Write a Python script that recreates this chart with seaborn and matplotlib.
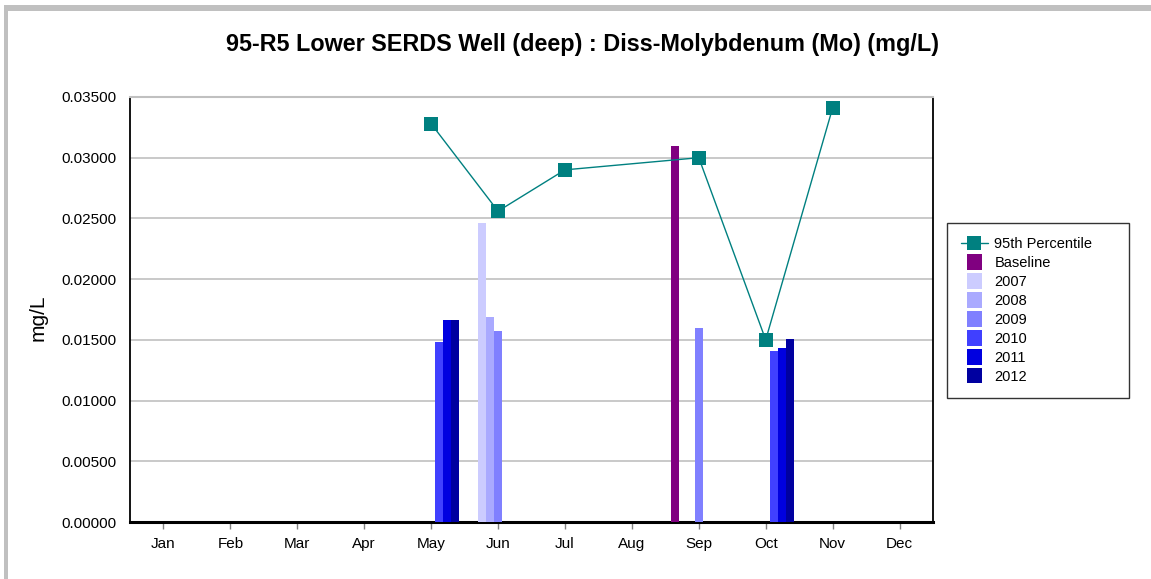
import matplotlib
matplotlib.use("Agg")
import matplotlib.pyplot as plt
from matplotlib.patches import Rectangle, Patch
from matplotlib.lines import Line2D
from matplotlib.legend_handler import HandlerPatch
import seaborn as sns
import pandas as pd
import numpy as np

months = ['Jan', 'Feb', 'Mar', 'Apr', 'May', 'Jun', 'Jul', 'Aug', 'Sep', 'Oct', 'Nov', 'Dec']
series = ['Baseline', '2007', '2008', '2009', '2010', '2011', '2012']
colors = ['#800080', '#CCCCFF', '#AAAAFF', '#8080FF', '#4040FF', '#0000E0', '#0000A0']

baseline = {'Sep': 0.0310}
y2007 = {'Jun': 0.0246}
y2008 = {'Jun': 0.0169}
y2009 = {'Jun': 0.0157, 'Sep': 0.0160}
y2010 = {'May': 0.0148, 'Oct': 0.0141}
y2011 = {'May': 0.0166, 'Oct': 0.0143}
y2012 = {'May': 0.0166, 'Oct': 0.0151}

p95_months = ['May', 'Jun', 'Jul', 'Sep', 'Oct', 'Nov']
p95_values = [0.0328, 0.0256, 0.0290, 0.0300, 0.0150, 0.0341]

yticks = [0.0, 0.005, 0.010, 0.015, 0.020, 0.025, 0.030, 0.035]

title = '95-R5 Lower SERDS Well (deep) : Diss-Molybdenum (Mo) (mg/L)'

rows = []
for name, d in zip(series, [baseline, y2007, y2008, y2009, y2010, y2011, y2012]):
    for m, v in d.items():
        rows.append({'month': m, 'series': name, 'value': v})
df = pd.DataFrame(rows)

sns.set_style('white')
plt.rcParams['font.family'] = ['Liberation Sans', 'DejaVu Sans']
plt.rcParams['text.color'] = 'black'
plt.rcParams['xtick.color'] = 'black'
plt.rcParams['ytick.color'] = 'black'

W, H = 1151, 579
fig = plt.figure(figsize=(W / 100, H / 100), dpi=100)
fig.patch.set_facecolor('white')

ax = fig.add_axes([130 / W, 1 - 522 / H, (933 - 130) / W, (522 - 97) / H])

sns.barplot(data=df, x='month', y='value', hue='series', order=months, hue_order=series,
            palette=colors, width=0.837, dodge=True, errorbar=None, saturation=1,
            linewidth=0, legend=False, ax=ax, zorder=3)

xpos = [months.index(m) for m in p95_months]
ax.plot(xpos, p95_values, color='#008080', linewidth=1, marker='s', markersize=10,
        markeredgewidth=0, zorder=4)

ax.set_xlim(-0.5, 11.5)
ax.set_ylim(0, 0.035)
ax.set_yticks(yticks)
ax.set_yticklabels([f'{t:.5f}' for t in yticks], fontsize=11)
ax.set_xticks(range(12))
ax.set_xticklabels(months, fontsize=11)
ax.set_xlabel('')
ax.set_ylabel('')
ax.grid(axis='y', color='#C0C0C0', linewidth=1.2, zorder=0)
ax.set_axisbelow(True)
ax.tick_params(axis='x', length=5, color='#808080', labelcolor='black', width=1, pad=6,
               direction='out', bottom=True)
ax.tick_params(axis='y', length=0, pad=10, labelcolor='black')
for s in ['left', 'right']:
    ax.spines[s].set_color('black')
    ax.spines[s].set_linewidth(1.3)
ax.spines['bottom'].set_color('black')
ax.spines['bottom'].set_linewidth(2.2)
ax.spines['top'].set_color('#C0C0C0')
ax.spines['top'].set_linewidth(1.5)

fig.text(582 / W, 1 - 44 / H, title, ha='center', va='center', fontsize=16.8,
         fontweight='bold', color='black')
fig.text(38.5 / W, 1 - 318 / H, 'mg/L', ha='center', va='center', rotation=90,
         fontsize=15, color='black')


def square_patch(legend, orig_handle, xdescent, ydescent, width, height, fontsize):
    side = height * 1.2
    return Rectangle((-xdescent + (width - side) / 2, -ydescent - (side - height) / 2),
                     side, side)


handles = [Line2D([0], [0], color='#008080', linewidth=1, marker='s', markersize=10,
                  markeredgewidth=0)]
handles += [Patch(facecolor=c, edgecolor='none') for c in colors]
labels = ['95th Percentile'] + series
leg = fig.legend(handles, labels, loc='upper left',
                 bbox_to_anchor=(947 / W, 1 - 223 / H, 182 / W, 0), mode='expand',
                 fontsize=10.5, frameon=True, fancybox=False, edgecolor='black',
                 labelspacing=0.3, handlelength=1.85, handleheight=1.0, handletextpad=0.45,
                 borderpad=0.95, borderaxespad=0,
                 handler_map={Patch: HandlerPatch(patch_func=square_patch)})
leg.get_frame().set_linewidth(1.0)
for t in leg.get_texts():
    t.set_color('black')

fig.add_artist(Rectangle((4 / W, 0), 4 / W, 1 - 5 / H, transform=fig.transFigure,
                         facecolor='#C0C0C0', edgecolor='none'))
fig.add_artist(Rectangle((4 / W, 1 - 11 / H), 1 - 4 / W, 6 / H, transform=fig.transFigure,
                         facecolor='#C0C0C0', edgecolor='none'))

fig.savefig('out.png', dpi=100)
